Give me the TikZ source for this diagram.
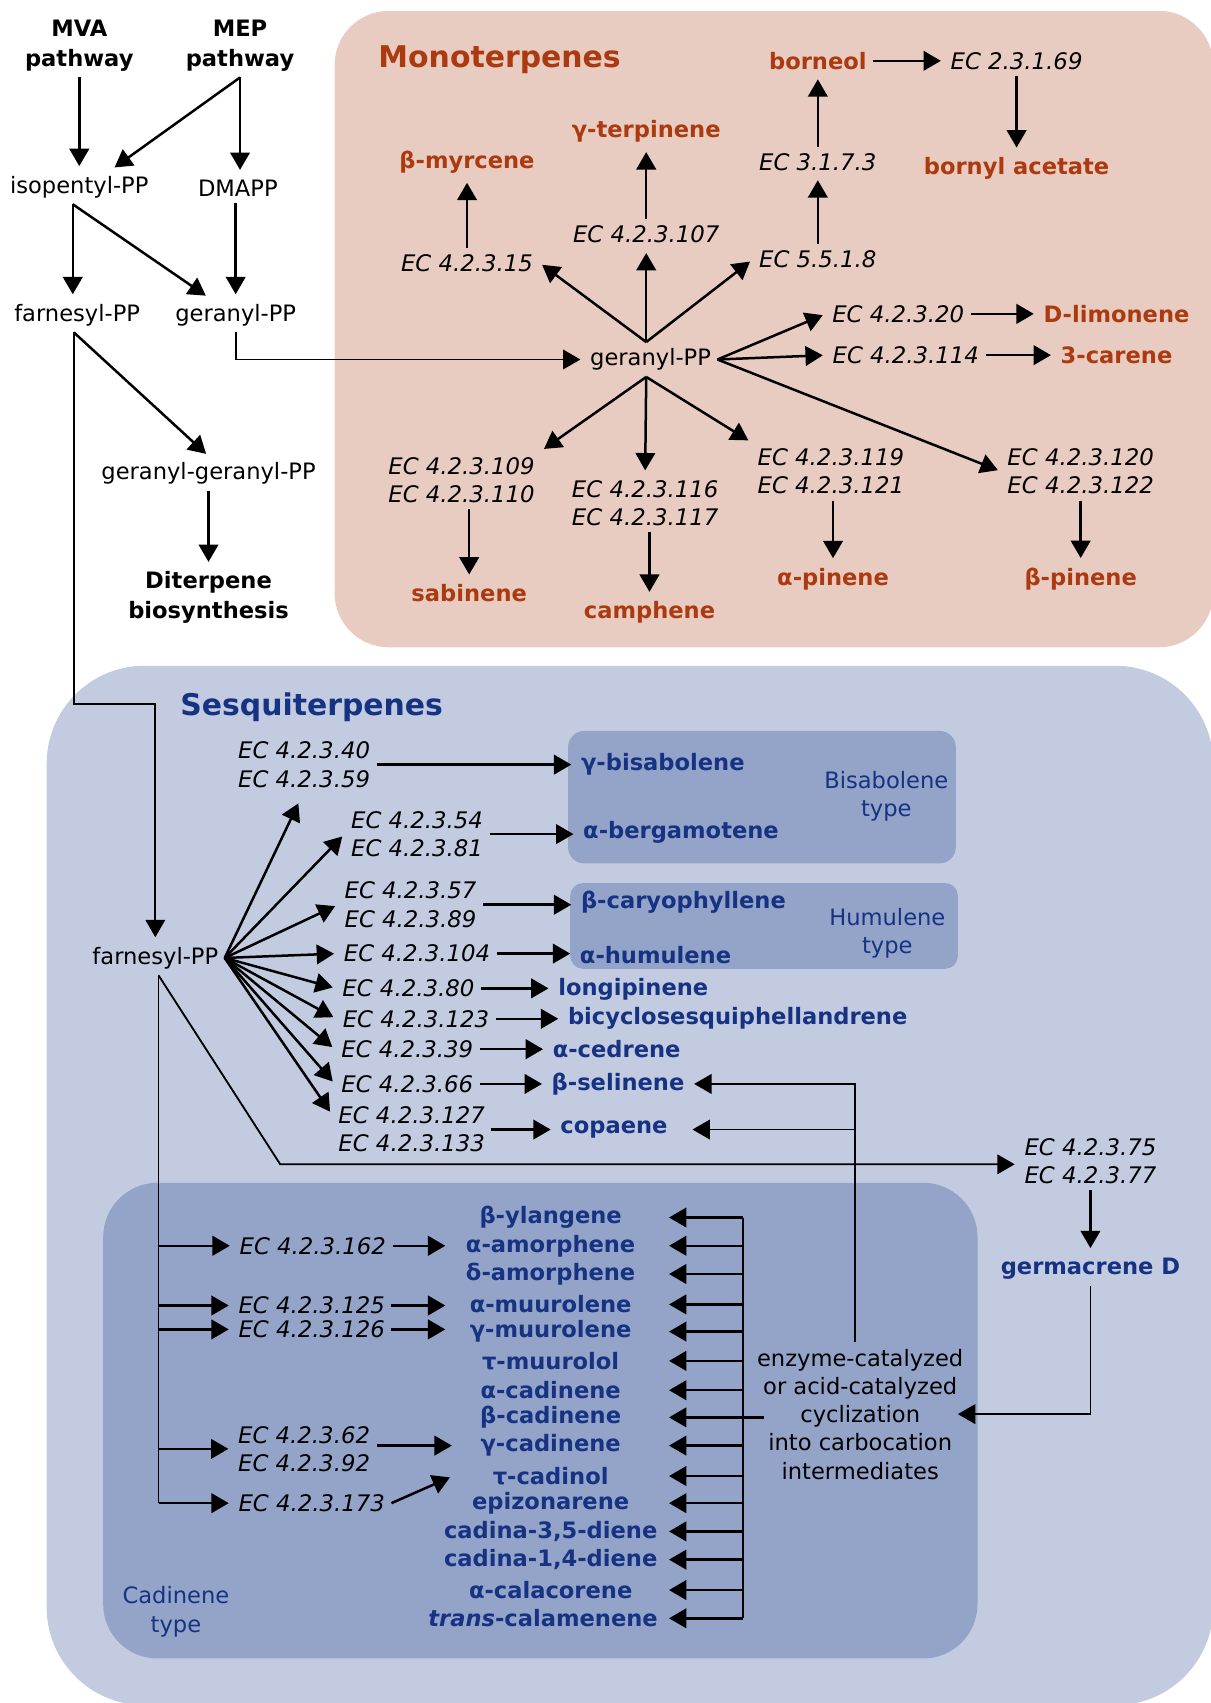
\documentclass[tikz,border=0pt]{standalone}
\usepackage{fontspec}
\setmainfont{DejaVu Sans}
\usetikzlibrary{arrows.meta}
\definecolor{monobg}{RGB}{232,204,193}
\definecolor{monotxt}{RGB}{172,58,16}
\definecolor{sesqbg}{RGB}{194,203,224}
\definecolor{sesqbox}{RGB}{148,163,200}
\definecolor{sesqtxt}{RGB}{22,50,130}
\tikzset{
  lbl/.style={font=\fontsize{20.8}{26}\selectfont, inner sep=2pt, outer sep=4pt, align=center},
  eclbl/.style={lbl, font=\fontsize{21}{26}\selectfont\itshape},
  pathlbl/.style={lbl, font=\fontsize{20.8}{27}\selectfont\bfseries},
  monolbl/.style={lbl, font=\fontsize{20.8}{26}\selectfont\bfseries, text=monotxt},
  sesqlbl/.style={lbl, font=\fontsize{20.8}{26}\selectfont\bfseries, text=sesqtxt},
  cadlbl/.style={sesqlbl, text width=200pt},
  typelbl/.style={lbl, text=sesqtxt},
  grouptitle/.style={lbl, font=\fontsize{27.5}{32}\selectfont\bfseries},
  arr/.style={line width=2.3pt, -{Triangle[length=16pt,width=18pt]}, shorten >=3pt},
  thinarr/.style={line width=1.7pt, -{Triangle[length=16pt,width=18pt]}, shorten >=3pt},
  thinline/.style={line width=1.7pt},
}
\begin{document}
\begin{tikzpicture}[x=1pt,y=-1pt]
\useasboundingbox (0,0) rectangle (1115,1568);
% group backgrounds
\fill[monobg, rounded corners=50pt] (308,10) rectangle (1117,596);
\fill[sesqbg, rounded corners=90pt] (43,613) rectangle (1117,1570);
\fill[sesqbox, rounded corners=15pt] (523,673) rectangle (880,795);
\fill[sesqbox, rounded corners=12pt] (525,813) rectangle (882,892);
\fill[sesqbox, rounded corners=50pt] (95,1089) rectangle (900,1527);

% precursors
\node[pathlbl] (mva) at (73,42) {MVA\\pathway};
\node[pathlbl] (mep) at (221,42) {MEP\\pathway};
\node[lbl] (ipp) at (73,172) {isopentyl-PP};
\node[lbl] (dmapp) at (219,173) {DMAPP};
\node[lbl] (fpp0) at (71,290) {farnesyl-PP};
\node[lbl] (gpp0) at (217,290) {geranyl-PP};
\node[lbl] (ggpp) at (192,436) {geranyl-geranyl-PP};
\node[pathlbl] (diter) at (192,550) {Diterpene\\biosynthesis};

\draw[arr] (mva) -- (ipp);
\draw[arr] (mep.south) -- ([xshift=30pt]ipp.north);
\draw[arr] (mep.south) -- (mep.south |- dmapp.north);
\draw[arr] ([xshift=-6pt]ipp.south) -- ([xshift=-4pt]fpp0.north);
\draw[arr] ([xshift=-6pt]ipp.south) -- ([xshift=-25pt]gpp0.north);
\draw[arr] (dmapp.south -| gpp0) -- (gpp0);
\draw[arr] ([xshift=-3pt]fpp0.south) -- (ggpp.north);
\draw[arr] (ggpp) -- (diter);

% monoterpenes
\node[grouptitle, text=monotxt] (monot) at (460,55) {Monoterpenes};
\node[lbl] (gpp) at (599,331) {geranyl-PP};
\node[eclbl] (ec15) at (430,242) {EC 4.2.3.15};
\node[eclbl] (ec107) at (595,216) {EC 4.2.3.107};
\node[eclbl] (ec5518) at (753,239) {EC 5.5.1.8};
\node[monolbl] (myrc) at (430,149) {β-myrcene};
\node[monolbl] (gterp) at (595,121) {γ-terpinene};
\node[eclbl] (ec3173) at (753,149) {EC 3.1.7.3};
\node[monolbl] (born) at (753,56) {borneol};
\node[eclbl] (ec23169) at (936,56) {EC 2.3.1.69};
\node[monolbl] (bornac) at (936,155) {bornyl acetate};
\node[eclbl] (ec20) at (827,289) {EC 4.2.3.20};
\node[eclbl] (ec114) at (834,327) {EC 4.2.3.114};
\node[monolbl] (limo) at (1028,289) {D-limonene};
\node[monolbl] (car) at (1028,327) {3-carene};
\node[eclbl] (ec120) at (995,434) {EC 4.2.3.120\\EC 4.2.3.122};
\node[monolbl] (bpin) at (995,533) {β-pinene};
\node[eclbl] (ec109) at (425,442) {EC 4.2.3.109\\EC 4.2.3.110};
\node[eclbl] (ec116) at (594,463) {EC 4.2.3.116\\EC 4.2.3.117};
\node[eclbl] (ec119) at (765,434) {EC 4.2.3.119\\EC 4.2.3.121};
\node[monolbl] (sab) at (432,546) {sabinene};
\node[monolbl] (camph) at (598,564) {camphene};
\node[monolbl] (apin) at (767,533) {α-pinene};

\draw[thinarr] (gpp0.south) |- (gpp.west);
\coordinate (gtop) at ([xshift=-4pt]gpp.north);
\coordinate (gbot) at ([xshift=-4pt]gpp.south);
\draw[arr] (gtop) -- (ec15.east);
\draw[arr] (gtop) -- (ec107);
\draw[arr] (gtop) -- (ec5518.west);
\draw[arr] (ec15) -- (myrc);
\draw[arr] (ec107) -- (gterp);
\draw[arr] (ec5518) -- (ec3173);
\draw[arr] (ec3173) -- (born);
\draw[arr] (born) -- (ec23169);
\draw[arr] (ec23169) -- (bornac);
\draw[arr] (gpp.east) -- (ec20.west);
\draw[arr] (gpp.east) -- (ec114.west);
\draw[arr] (gpp.east) -- (ec120.west);
\draw[arr] (ec20) -- (limo);
\draw[arr] (ec114) -- (car);
\draw[arr] (ec120) -- (bpin);
\draw[arr] (gbot) -- (ec109.north east);
\draw[arr] (gbot) -- (ec116.north);
\draw[arr] (gbot) -- (ec119.north west);
\draw[arr] (ec109.south -| sab) -- (sab);
\draw[arr] (ec116.south -| camph) -- (camph);
\draw[arr] (ec119.south -| apin) -- (apin);

% sesquiterpenes
\node[grouptitle, text=sesqtxt] (sesqt) at (287,651) {Sesquiterpenes};
\node[lbl] (fpp) at (143,882) {farnesyl-PP};
\node[eclbl] (ec40) at (280,704) {EC 4.2.3.40\\EC 4.2.3.59};
\node[eclbl] (ec54) at (384,768) {EC 4.2.3.54\\EC 4.2.3.81};
\node[eclbl] (ec57) at (378,833) {EC 4.2.3.57\\EC 4.2.3.89};
\node[eclbl] (ec104) at (384,878) {EC 4.2.3.104};
\node[eclbl] (ec80) at (376,910) {EC 4.2.3.80};
\node[eclbl] (ec123) at (383,938) {EC 4.2.3.123};
\node[eclbl] (ec39) at (375,966) {EC 4.2.3.39};
\node[eclbl] (ec66) at (375,998) {EC 4.2.3.66};
\node[eclbl] (ec127) at (379,1040) {EC 4.2.3.127\\EC 4.2.3.133};
\node[sesqlbl, anchor=west] (gbis) at (529,704) {γ-bisabolene};
\node[sesqlbl, anchor=west] (aberg) at (531,766) {α-bergamotene};
\node[sesqlbl, anchor=west] (bcary) at (529,831) {β-caryophyllene};
\node[sesqlbl, anchor=west] (ahum) at (528,879) {α-humulene};
\node[sesqlbl, anchor=west] (longi) at (508,911) {longipinene};
\node[sesqlbl, anchor=west] (bicyc) at (517,938) {bicyclosesquiphellandrene};
\node[sesqlbl, anchor=west] (acedr) at (503,966) {α-cedrene};
\node[sesqlbl, anchor=west] (bsel) at (502,998) {β-selinene};
\node[sesqlbl, anchor=west] (copae) at (510,1040) {copaene};
\node[typelbl] (bistype) at (816,733) {Bisabolene\\type};
\node[typelbl] (humtype) at (817,859) {Humulene\\type};
\node[eclbl] (ec75) at (1004,1069) {EC 4.2.3.75\\EC 4.2.3.77};
\node[sesqlbl] (germ) at (1004,1168) {germacrene D};
\node[lbl] (enz) at (792,1302) {enzyme-catalyzed\\or acid-catalyzed\\cyclization\\into carbocation\\intermediates};

\draw[thinarr] ([xshift=-3pt]fpp0.south) -- (68,648) -| (fpp);
\coordinate (fhub) at (fpp.east);
\draw[arr] (fhub) -- ([xshift=-4pt,yshift=-6pt]ec40.south);
\foreach \e in {ec54,ec57,ec104,ec80,ec123,ec39,ec66}
  \draw[arr] (fhub) -- (\e.west);
\draw[arr] (fhub) -- ([yshift=14pt]ec127.west);
\draw[arr] (ec40) -- (ec40 -| gbis.west);
\draw[arr] (ec54) -- (ec54 -| aberg.west);
\draw[arr] (ec57) -- (ec57 -| bcary.west);
\draw[arr] (ec104) -- (ec104 -| ahum.west);
\draw[arr] (ec80) -- (ec80 -| longi.west);
\draw[arr] (ec123) -- (ec123 -| bicyc.west);
\draw[arr] (ec39) -- (ec39 -| acedr.west);
\draw[arr] (ec66) -- (ec66 -| bsel.west);
\draw[arr] (ec127) -- (ec127 -| copae.west);

\coordinate (fsouth) at ([xshift=3pt]fpp.south);
\coordinate (fbend) at (258,1072);
\draw[thinarr] (fsouth) -- (fbend) -- (fbend -| ec75.west);
\draw[arr] (ec75) -- (germ);
\draw[thinarr] (germ.south) |- ([xshift=-14pt]enz.east);
\coordinate (ebus) at ([xshift=-5pt]enz.north);
\draw[thinarr] (ebus) |- (bsel.east);
\draw[thinarr] (ebus |- copae) -- ([xshift=14pt]copae.east);

% cadinene type
\node[typelbl] (cadtype) at (162,1484) {Cadinene\\type};
\node[eclbl] (ec162) at (288,1147) {EC 4.2.3.162};
\node[eclbl] (ec125) at (287,1202) {EC 4.2.3.125};
\node[eclbl] (ec126) at (287,1224) {EC 4.2.3.126};
\node[eclbl] (ec62) at (280,1334) {EC 4.2.3.62\\EC 4.2.3.92};
\node[eclbl] (ec173) at (287,1384) {EC 4.2.3.173};
\node[cadlbl] (ylang) at (507,1121) {β-ylangene};
\node[cadlbl] (aamor) at (507,1147) {α-amorphene};
\node[cadlbl] (damor) at (507,1173) {δ-amorphene};
\node[cadlbl] (amuur) at (507,1201) {α-muurolene};
\node[cadlbl] (gmuur) at (507,1226) {γ-muurolene};
\node[cadlbl] (tmuur) at (507,1253) {τ-muurolol};
\node[cadlbl] (acad) at (507,1280) {α-cadinene};
\node[cadlbl] (bcad) at (507,1305) {β-cadinene};
\node[cadlbl] (gcad) at (507,1331) {γ-cadinene};
\node[cadlbl] (tcadol) at (507,1359) {τ-cadinol};
\node[cadlbl] (epiz) at (507,1384) {epizonarene};
\node[cadlbl] (cad35) at (507,1410) {cadina-3,5-diene};
\node[cadlbl] (cad14) at (507,1436) {cadina-1,4-diene};
\node[cadlbl] (acala) at (507,1464) {α-calacorene};
\node[cadlbl, text width=214pt] (tcala) at (500,1490) {\textit{trans}-calamenene};

\draw[thinline] (fsouth) -- (fsouth |- ec173);
\foreach \e in {ec162,ec125,ec126,ec62,ec173}
  \draw[arr] (fsouth |- \e) -- (\e.west);
\draw[arr] (ec162) -- ([xshift=12pt]ec162 -| aamor.west);
\draw[arr] (ec125) -- ([xshift=12pt]ec125 -| amuur.west);
\draw[arr] (ec126) -- ([xshift=12pt]ec126 -| gmuur.west);
\draw[arr] (ec62.east |- gcad) -- ([xshift=18pt]gcad.west);
\draw[arr] (ec173.east) -- ([xshift=16pt]tcadol.west);

\coordinate (rbus) at (684,1121);
\draw[line width=1.9pt] (rbus |- ylang) -- (rbus |- tcala);
\foreach \p in {ylang,aamor,damor,amuur,gmuur,tmuur,acad,gcad,tcadol,epiz,cad35,cad14,acala,tcala}
  \draw[arr] (rbus |- \p) -- (\p.east);
\coordinate (bstart) at ([xshift=12pt]enz.west);
\draw[arr] (bstart |- bcad) -- (bcad.east);
\end{tikzpicture}
\end{document}
